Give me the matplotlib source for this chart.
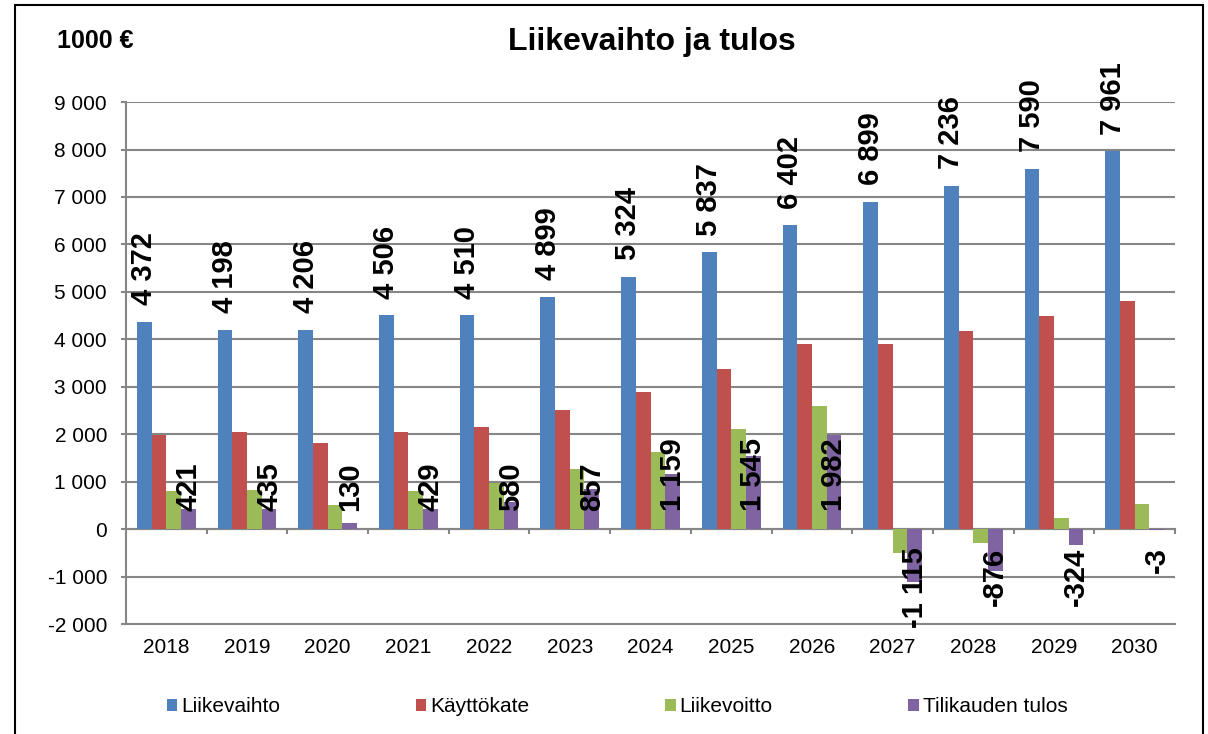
import numpy as np
import matplotlib
matplotlib.use("Agg")
import matplotlib.pyplot as plt
from matplotlib.patches import Rectangle
from matplotlib.ticker import FuncFormatter

plt.rcParams['font.family'] = ['Liberation Sans', 'DejaVu Sans']

years = ['2018', '2019', '2020', '2021', '2022', '2023', '2024',
         '2025', '2026', '2027', '2028', '2029', '2030']
liikevaihto = [4372, 4198, 4206, 4506, 4510, 4899, 5324, 5837, 6402, 6899, 7236, 7590, 7961]
kayttokate = [1990, 2045, 1810, 2055, 2150, 2505, 2900, 3370, 3895, 3895, 4175, 4490, 4805]
liikevoitto = [805, 820, 512, 805, 968, 1275, 1635, 2105, 2595, -505, -295, 232, 526]
tilikauden_tulos = [421, 435, 130, 429, 580, 857, 1159, 1545, 1982, -1115, -876, -324, -3]

series = [
    ('Liikevaihto', liikevaihto, '#4F81BD'),
    ('Käyttökate', kayttokate, '#C0504D'),
    ('Liikevoitto', liikevoitto, '#9BBB59'),
    ('Tilikauden tulos', tilikauden_tulos, '#8064A2'),
]

def fmt(v):
    return f'{v:,.0f}'.replace(',', ' ')

grey = '#868686'

fig = plt.figure(figsize=(12.08, 7.34), dpi=100)
ax = fig.add_axes([0.1043, 0.1494, 0.8684, 0.7116])

x = np.arange(len(years))
w = 0.182
bars = []
for i, (name, vals, col) in enumerate(series):
    b = ax.bar(x + (i - 1.5) * w, vals, w, color=col, label=name, zorder=2)
    bars.append(b)

# labels: turnover above the bar, net result from the base
for xi, v in zip(x - 1.5 * w, liikevaihto):
    ax.annotate(fmt(v), (xi, v), xytext=(0, 12), textcoords='offset points',
                rotation=90, ha='center', va='bottom', fontsize=21,
                fontweight='bold', zorder=5)
for xi, v in zip(x + 1.5 * w, tilikauden_tulos):
    off = 13 if v >= 0 else -13
    ax.annotate(fmt(v), (xi, 0), xytext=(0, off), textcoords='offset points',
                rotation=90, ha='center', va='bottom' if v >= 0 else 'top',
                fontsize=21, fontweight='bold', zorder=5)

ax.set_xlim(-0.5, len(years) - 0.5)
ax.set_ylim(-2000, 9000)
ax.set_yticks(np.arange(-2000, 9001, 1000))
ax.yaxis.set_major_formatter(FuncFormatter(lambda v, p: fmt(v)))
ax.set_xticks(x)
ax.set_xticklabels(years)

ax.yaxis.grid(True, color=grey, lw=1.5)
ax.set_axisbelow(True)
for s in ['top', 'right']:
    ax.spines[s].set_visible(False)
for s in ['left', 'bottom']:
    ax.spines[s].set_color(grey)
    ax.spines[s].set_linewidth(1.5)
ax.tick_params(axis='y', length=3.6, width=1.5, color=grey, labelsize=15, pad=10)
ax.tick_params(axis='x', length=0, labelsize=15, pad=10)

# category axis crossing at zero
sec = ax.secondary_xaxis(0, transform=ax.transData)
sec.set_xticks(np.arange(len(years) + 1) - 0.5)
sec.set_xticklabels([])
sec.spines['bottom'].set_color(grey)
sec.spines['bottom'].set_linewidth(1.5)
sec.tick_params(length=3.6, width=1.5, color=grey, direction='out')

fig.text(0.54, 0.943, 'Liikevaihto ja tulos', ha='center', va='center',
         fontsize=23, fontweight='bold')
fig.text(0.047, 0.944, '1000 €', ha='left', va='center', fontsize=18,
         fontweight='bold')

fig.legend(handles=bars, loc='center', bbox_to_anchor=(0.511, 0.037), ncol=4,
           frameon=False, fontsize=15, handlelength=0.5, handleheight=0.5,
           handletextpad=0.2, columnspacing=6.5)

fig.add_artist(Rectangle((15 / 1208, -0.05), 1188 / 1208, 1.05 - 5 / 734,
                         transform=fig.transFigure, fill=False, ec='black',
                         lw=1.5, clip_on=False))

fig.savefig('out.png', dpi=100)
